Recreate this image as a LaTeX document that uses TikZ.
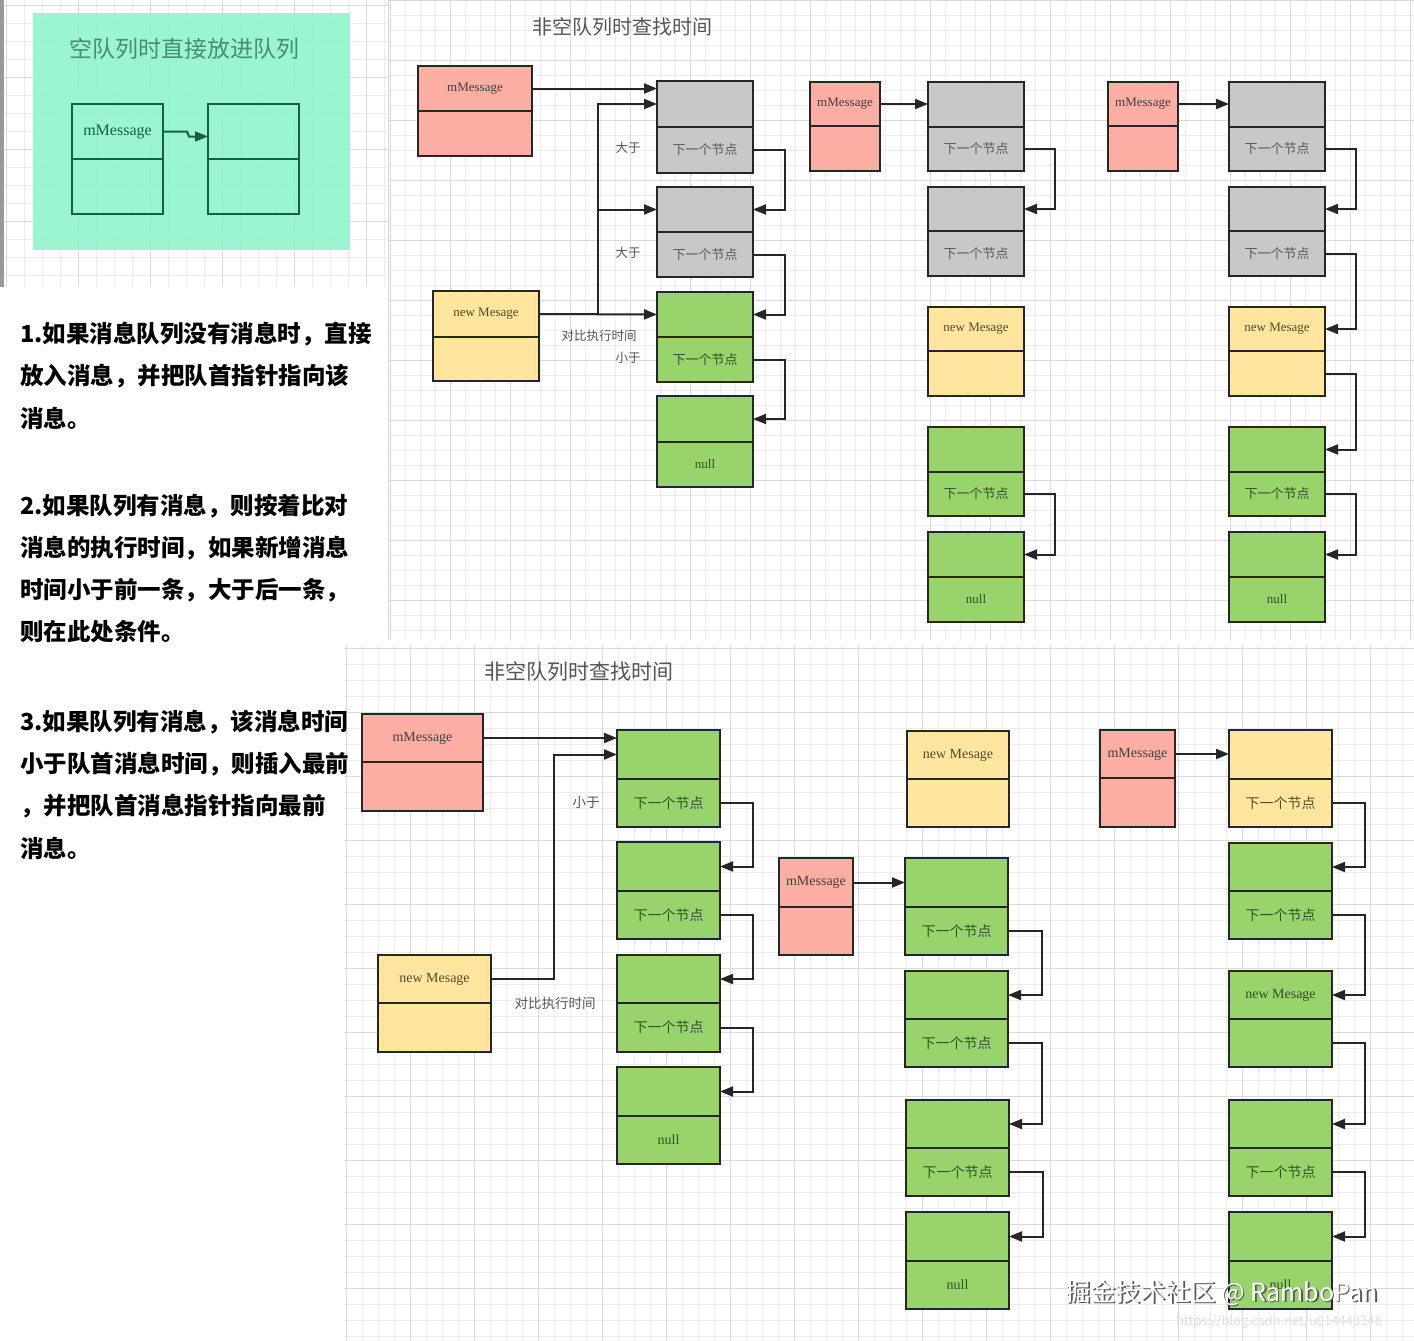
\documentclass[tikz,border=0pt]{standalone}
\usepackage{fontspec}
\setmainfont{Liberation Serif}
\newfontfamily\cjk{Noto Sans CJK SC}
\usetikzlibrary{arrows.meta,calc}
\definecolor{cpink}{HTML}{FDAEA4}
\definecolor{cgray}{HTML}{C8C8C8}
\definecolor{cgreen}{HTML}{98D36B}
\definecolor{cyellow}{HTML}{FFE59E}
\definecolor{caqua}{HTML}{8EF6CB}
\definecolor{cdkg}{HTML}{17603F}
\definecolor{ctlt}{HTML}{4A8C70}
\definecolor{ctitle}{HTML}{555555}
\definecolor{cgmin}{HTML}{ECECEC}
\definecolor{cgmaj}{HTML}{DADADA}
\definecolor{cline}{HTML}{262626}
\definecolor{ctgreen}{HTML}{34502A}
\definecolor{ctyel}{HTML}{5A4A2A}
\newcommand\xiayige{{\cjk 下一个节点}}
\newcommand\twobox[9]{%
  \node[cell,#7,minimum width=#4pt,minimum height=#5pt,anchor=north west] (#1t) at (#2,#3) {#8};
  \node[cell,#7,minimum width=#4pt,minimum height=#6pt,anchor=north] (#1b) at (#1t.south) {#9};}
\tikzset{
  cell/.style={draw=cline,line width=1.9pt,inner sep=0pt,outer sep=0pt,font=\fontsize{13}{15}\selectfont,text=black!80},
  big/.style={font=\fontsize{14}{16}\selectfont},
  pinkbox/.style={fill=cpink,text=black!75},
  graybox/.style={fill=cgray,text=black!65},
  greenbox/.style={fill=cgreen,text=ctgreen},
  yellowbox/.style={fill=cyellow,text=ctyel},
  tlbox/.style={draw=cdkg,line width=2pt,fill=none,text=cdkg,font=\fontsize{16}{18}\selectfont},
  arr/.style={line width=2pt,draw=cline,-{Triangle[length=13pt,width=10pt]}},
  arrg/.style={line width=2pt,draw=cdkg,-{Triangle[length=13pt,width=10pt]}},
  gmin/.style={draw=cgmin,line width=0.8pt},
  gmaj/.style={draw=cgmaj,line width=1pt},
  lab/.style={font=\cjk\fontsize{12.5}{14}\selectfont,text=ctitle,inner sep=0pt},
  labb/.style={font=\cjk\fontsize{13.5}{15}\selectfont,text=ctitle,inner sep=0pt},
  ttl/.style={font=\cjk\fontsize{20}{22}\selectfont,text=ctitle,inner sep=0pt},
  para/.style={font=\cjk\bfseries\fontsize{23.5}{26}\selectfont,text=black,inner sep=0pt,anchor=west},
}
\begin{document}
\begin{tikzpicture}[x=1pt,y=-1pt]
\useasboundingbox (0,0) rectangle (1414,1341);
\fill[white] (0,0) rectangle (1414,1341);
% ---------- grids ----------
% top-left panel
\foreach \x in {6,24,...,388} \draw[gmin] (\x,0) -- (\x,287);
\foreach \y in {5,23,...,287} \draw[gmin] (4,\y) -- (388,\y);
\foreach \x in {6,78,...,388} \draw[gmaj] (\x,0) -- (\x,287);
\foreach \y in {5,77,...,287} \draw[gmaj] (4,\y) -- (388,\y);
\fill[black!40] (0,0) rectangle (4,287);
% top-right panel
\foreach \x in {390,405,...,1414} \draw[gmin] (\x,0) -- (\x,640);
\foreach \y in {0,15,...,640} \draw[gmin] (388,\y) -- (1414,\y);
\foreach \x in {390,450,...,1414} \draw[gmaj] (\x,0) -- (\x,640);
\foreach \y in {0,60,...,640} \draw[gmaj] (388,\y) -- (1414,\y);
\draw[black!15,line width=1pt] (388.5,0) -- (388.5,640);
% bottom panel
\foreach \x in {346,362,...,1414} \draw[gmin] (\x,645) -- (\x,1341);
\foreach \y in {648,664,...,1341} \draw[gmin] (344,\y) -- (1414,\y);
\foreach \x in {346,410,...,1414} \draw[gmaj] (\x,645) -- (\x,1341);
\foreach \y in {648,712,...,1341} \draw[gmaj] (344,\y) -- (1414,\y);

% ---------- top-left panel ----------
\fill[caqua,opacity=0.9] (33,13) rectangle (350,250);
\node[font=\cjk\fontsize{23}{25}\selectfont,text=ctlt,inner sep=0pt] (tltitle) at (184,49) {空队列时直接放进队列};
\twobox{TL1}{72}{104}{91}{55}{55}{tlbox}{mMessage}{}
\twobox{TL2}{208}{104}{91}{55}{55}{tlbox}{}{}
\draw[arrg] (TL1t.east) -- ++(24,0) -- ++(2,5) -- ($(TL2t.west)+(0,5)$);

% ---------- top-right panel ----------
\node[ttl] (trtitle) at (622,27) {非空队列时查找时间};
% column A
\twobox{Am}{418}{66}{114}{45}{45}{pinkbox}{mMessage}{}
\twobox{A1}{657}{81}{96}{46}{46}{graybox}{}{\xiayige}
\twobox{A2}{657}{187}{96}{45}{45}{graybox}{}{\xiayige}
\twobox{A3}{657}{292}{96}{45}{45}{greenbox}{}{\xiayige}
\twobox{A4}{657}{396}{96}{46}{45}{greenbox}{}{null}
\twobox{An}{433}{291}{106}{46}{44}{yellowbox}{new Mesage}{}
\draw[arr] (Amt.east) -- (Amt.east -| A1t.west);
\draw[arr] (Ant.east) -- (A3t.west);
\coordinate (Atr) at ($(Ant.east)+(59,0)$);
\draw[arr] (Atr) |- (A1t.west);
\draw[arr] (Atr) |- (A2t.west);
\draw[arr] (A1b.east) -- ++(32,0) |- (A2t.east);
\draw[arr] (A2b.east) -- ++(32,0) |- (A3t.east);
\draw[arr] (A3b.east) -- ++(32,0) |- (A4t.east);
\node[lab] (gt1) at (628,148) {大于};
\node[lab] (gt2) at (628,253) {大于};
\node[lab] (cmp1) at (599,336) {对比执行时间};
\node[lab] (lt1) at (628,358) {小于};
% column B
\twobox{Bm}{810}{82}{70}{44}{45}{pinkbox}{mMessage}{}
\twobox{B1}{928}{82}{96}{45}{44}{graybox}{}{\xiayige}
\twobox{B2}{928}{187}{96}{44}{45}{graybox}{}{\xiayige}
\twobox{B3}{928}{307}{96}{44}{45}{yellowbox}{new Mesage}{}
\twobox{B4}{928}{427}{96}{45}{44}{greenbox}{}{\xiayige}
\twobox{B5}{928}{532}{96}{45}{45}{greenbox}{}{null}
\draw[arr] (Bmt.east) -- (Bmt.east -| B1t.west);
\draw[arr] (B1b.east) -- ++(31,0) |- (B2t.east);
\draw[arr] (B4b.east) -- ++(31,0) |- (B5t.east);
% column C
\twobox{Cm}{1108}{82}{70}{44}{45}{pinkbox}{mMessage}{}
\twobox{C1}{1229}{82}{96}{45}{44}{graybox}{}{\xiayige}
\twobox{C2}{1229}{187}{96}{44}{45}{graybox}{}{\xiayige}
\twobox{C3}{1229}{307}{96}{44}{45}{yellowbox}{new Mesage}{}
\twobox{C4}{1229}{427}{96}{45}{44}{greenbox}{}{\xiayige}
\twobox{C5}{1229}{532}{96}{45}{45}{greenbox}{}{null}
\draw[arr] (Cmt.east) -- (Cmt.east -| C1t.west);
\draw[arr] (C1b.east) -- ++(31,0) |- (C2t.east);
\draw[arr] (C2b.east) -- ++(31,0) |- (C3t.east);
\draw[arr] (C3b.east) -- ++(31,0) |- (C4t.east);
\draw[arr] (C4b.east) -- ++(31,0) |- (C5t.east);

% ---------- bottom panel ----------
\node[ttl,font=\cjk\fontsize{21}{23}\selectfont] (bttitle) at (579,672) {非空队列时查找时间};
% column D
\twobox{Dm}{362}{714}{121}{48}{49}{pinkbox,big}{mMessage}{}
\twobox{D1}{617}{730}{103}{49}{48}{greenbox,big}{}{\xiayige}
\twobox{D2}{617}{842}{103}{49}{48}{greenbox,big}{}{\xiayige}
\twobox{D3}{617}{955}{103}{48}{49}{greenbox,big}{}{\xiayige}
\twobox{D4}{617}{1067}{103}{49}{48}{greenbox,big}{}{null}
\twobox{Dn}{378}{955}{113}{48}{49}{yellowbox,big}{new Mesage}{}
\draw[arr] (Dmt.east) -- (Dmt.east -| D1t.west);
\draw[arr] (Dnt.east) -- ++(63,0) |- (D1t.west);
\draw[arr] (D1b.east) -- ++(33,0) |- (D2t.east);
\draw[arr] (D2b.east) -- ++(33,0) |- (D3t.east);
\draw[arr] (D3b.east) -- ++(33,0) |- (D4t.east);
\node[labb] (lt2) at (586,802) {小于};
\node[labb] (cmp2) at (555,1003) {对比执行时间};
% column E
\twobox{En}{907}{731}{102}{48}{48}{yellowbox,big}{new Mesage}{}
\twobox{Em}{779}{858}{74}{49}{48}{pinkbox,big}{mMessage}{}
\twobox{E1}{905}{858}{103}{49}{48}{greenbox,big}{}{\xiayige}
\twobox{E2}{905}{971}{103}{48}{48}{greenbox,big}{}{\xiayige}
\twobox{E3}{906}{1100}{103}{48}{48}{greenbox,big}{}{\xiayige}
\twobox{E4}{906}{1212}{103}{49}{48}{greenbox,big}{}{null}
\draw[arr] (Emt.east) -- (Emt.east -| E1t.west);
\draw[arr] (E1b.east) -- ++(34,0) |- (E2t.east);
\draw[arr] (E2b.east) -- ++(34,0) |- (E3t.east);
\draw[arr] (E3b.east) -- ++(34,0) |- (E4t.east);
% column F
\twobox{Fm}{1100}{730}{75}{48}{49}{pinkbox,big}{mMessage}{}
\twobox{F1}{1229}{730}{103}{49}{48}{yellowbox,big}{}{\xiayige}
\twobox{F2}{1229}{843}{103}{48}{48}{greenbox,big}{}{\xiayige}
\twobox{F3}{1229}{971}{103}{48}{48}{greenbox,big}{new Mesage}{}
\twobox{F4}{1229}{1100}{103}{48}{48}{greenbox,big}{}{\xiayige}
\twobox{F5}{1229}{1212}{103}{49}{48}{greenbox,big}{}{null}
\draw[arr] (Fmt.east) -- (Fmt.east -| F1t.west);
\draw[arr] (F1b.east) -- ++(33,0) |- (F2t.east);
\draw[arr] (F2b.east) -- ++(33,0) |- (F3t.east);
\draw[arr] (F3b.east) -- ++(33,0) |- (F4t.east);
\draw[arr] (F4b.east) -- ++(33,0) |- (F5t.east);

% ---------- left explanatory text ----------
\node[para] (p11) at (20,334) {1.如果消息队列没有消息时，直接};
\node[para] (p12) at (20,376) {放入消息，并把队首指针指向该};
\node[para] (p13) at (20,418) {消息。};
\node[para] (p21) at (20,506) {2.如果队列有消息，则按着比对};
\node[para] (p22) at (20,548) {消息的执行时间，如果新增消息};
\node[para] (p23) at (20,590) {时间小于前一条，大于后一条，};
\node[para] (p24) at (20,632) {则在此处条件。};
\node[para] (p31) at (20,722) {3.如果队列有消息，该消息时间};
\node[para] (p32) at (20,764) {小于队首消息时间，则插入最前};
\node[para] (p33) at (20,806) {，并把队首消息指针指向最前};
\node[para] (p34) at (20,848) {消息。};

% ---------- watermark ----------
\node[font=\cjk\fontsize{25}{27}\selectfont,text=black!65,inner sep=0pt] (wmshadow) at (1223.5,1294.5) {掘金技术社区 @ RamboPan};
\node[font=\cjk\fontsize{25}{27}\selectfont,text=white,inner sep=0pt] (wm) at (1222,1293) {掘金技术社区 @ RamboPan};
\node[font=\cjk\fontsize{13}{15}\selectfont,text=black!12,inner sep=0pt] (url) at (1279,1322) {https://blog.csdn.net/u014443348};
\end{tikzpicture}
\end{document}
